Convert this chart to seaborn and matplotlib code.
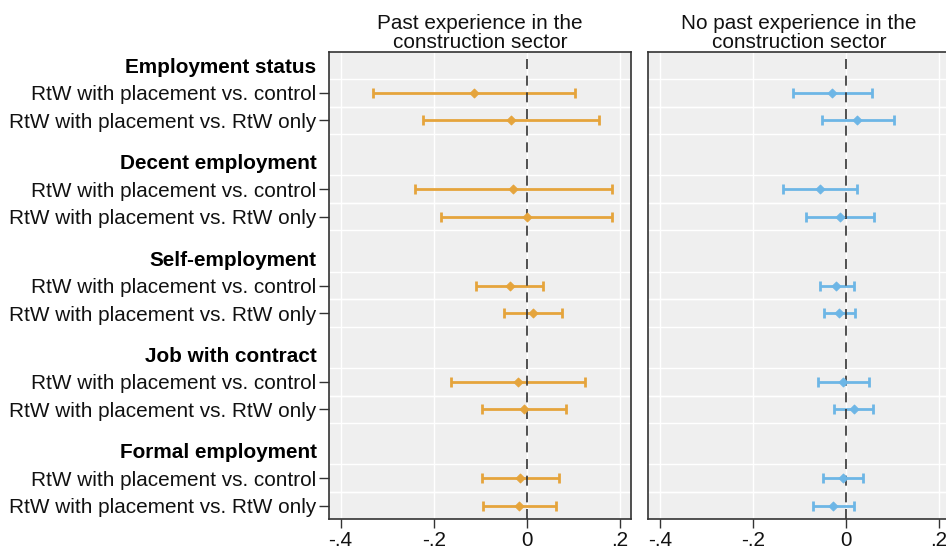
import numpy as np
import pandas as pd
import matplotlib
matplotlib.use("Agg")
import matplotlib.pyplot as plt
import seaborn as sns

# outcome groups and the two comparisons within each
groups = ["Employment status", "Decent employment", "Self-employment",
          "Job with contract", "Formal employment"]
comparisons = ["RtW with placement vs. control", "RtW with placement vs. RtW only"]

# past experience in construction
past_est = [-0.113, -0.034, -0.029, 0.000, -0.037, 0.013, -0.019, -0.006, -0.014, -0.017]
past_lo = [-0.330, -0.223, -0.241, -0.184, -0.108, -0.048, -0.162, -0.097, -0.097, -0.094]
past_hi = [0.104, 0.155, 0.184, 0.184, 0.034, 0.076, 0.126, 0.085, 0.069, 0.062]

# no past experience in construction
nopast_est = [-0.030, 0.024, -0.055, -0.013, -0.020, -0.014, -0.006, 0.017, -0.007, -0.027]
nopast_lo = [-0.113, -0.052, -0.135, -0.086, -0.056, -0.047, -0.060, -0.025, -0.050, -0.071]
nopast_hi = [0.056, 0.103, 0.025, 0.061, 0.017, 0.019, 0.049, 0.058, 0.037, 0.017]

panel_titles = ["Past experience in the\nconstruction sector",
                "No past experience in the\nconstruction sector"]
xticks = [-0.4, -0.2, 0, 0.2]
xtick_labels = ["-.4", "-.2", "0", ".2"]

ORANGE = "#E5A43C"
BLUE = "#6DB6E6"
FS = 14.95

# y layout: header, row, row, then a 1.5 gap
header_pos = [3.5 * g for g in range(len(groups))]
row_pos = [3.5 * g + 1 + j for g in range(len(groups)) for j in range(2)]
row_labels = [c for g in groups for c in comparisons]

frames = []
for name, est, lo, hi in [("past", past_est, past_lo, past_hi),
                          ("nopast", nopast_est, nopast_lo, nopast_hi)]:
    frames.append(pd.DataFrame({"panel": name, "label": row_labels, "y": row_pos,
                                "est": est, "lo": lo, "hi": hi}))
data = pd.concat(frames, ignore_index=True)

sns.set_theme(style="darkgrid", rc={"axes.facecolor": "#EFEFEF", "grid.color": "white"})
plt.rcParams["font.family"] = ["Liberation Sans", "DejaVu Sans"]

fig = plt.figure(figsize=(9.46, 5.56), dpi=100)
ax1 = fig.add_axes([0.3478, 0.066, 0.3189, 0.841])
ax2 = fig.add_axes([0.6853, 0.066, 0.3185, 0.841])

all_pos = sorted(header_pos + row_pos)
all_labels = []
for p in all_pos:
    if p in header_pos:
        all_labels.append(groups[header_pos.index(p)])
    else:
        all_labels.append(row_labels[row_pos.index(p)])
boundaries = [p + d for p in row_pos for d in (-0.5, 0.5)]

for ax, name, color, title in [(ax1, "past", ORANGE, panel_titles[0]),
                               (ax2, "nopast", BLUE, panel_titles[1])]:
    d = data[data["panel"] == name]
    ax.errorbar(x=d["est"], y=d["y"], xerr=[d["est"] - d["lo"], d["hi"] - d["est"]],
                fmt="none", ecolor=color, elinewidth=2.0, capsize=3.8, capthick=2.0, zorder=2)
    ax.axvline(0, color="#333333", lw=1.2, dashes=(6, 4), zorder=2.5)
    sns.scatterplot(data=d, x="est", y="y", marker="D", s=20, color=color,
                    edgecolor=color, linewidth=0.8, legend=False, ax=ax, zorder=3)

    ax.set_xlim(-0.425, 0.2235)
    ax.set_ylim(16.5, -0.5)
    ax.set_xticks(xticks)
    ax.set_xticklabels(xtick_labels, fontsize=FS, color="#111111")
    ax.set_xlabel("")
    ax.set_ylabel("")
    ax.set_title(title, fontsize=FS, pad=3, linespacing=1.0, color="#111111")

    ax.set_yticks(all_pos)
    ax.set_yticks(boundaries, minor=True)
    ax.grid(which="major", axis="y", visible=False)
    ax.grid(which="minor", axis="y", color="white", lw=1.0)
    ax.grid(which="major", axis="x", color="white", lw=1.0)
    ax.tick_params(axis="y", which="minor", length=0)
    ax.tick_params(axis="x", which="major", bottom=True, length=6.5, width=1.0,
                   color="#333333", pad=2)

    for sp in ax.spines.values():
        sp.set_visible(True)
        sp.set_color("#333333")
        sp.set_linewidth(1.2)

ax1.set_yticklabels(all_labels, fontsize=FS, color="#111111")
ax1.tick_params(axis="y", which="major", left=True, length=7, width=1.0,
                color="#333333", pad=2)
for tick, p in zip(ax1.yaxis.get_major_ticks(), all_pos):
    if p in header_pos:
        tick.tick1line.set_visible(False)
        tick.label1.set_fontweight("bold")
        tick.label1.set_color("black")

ax2.tick_params(axis="y", which="major", left=False, labelleft=False)

fig.savefig("out.png", dpi=100)
